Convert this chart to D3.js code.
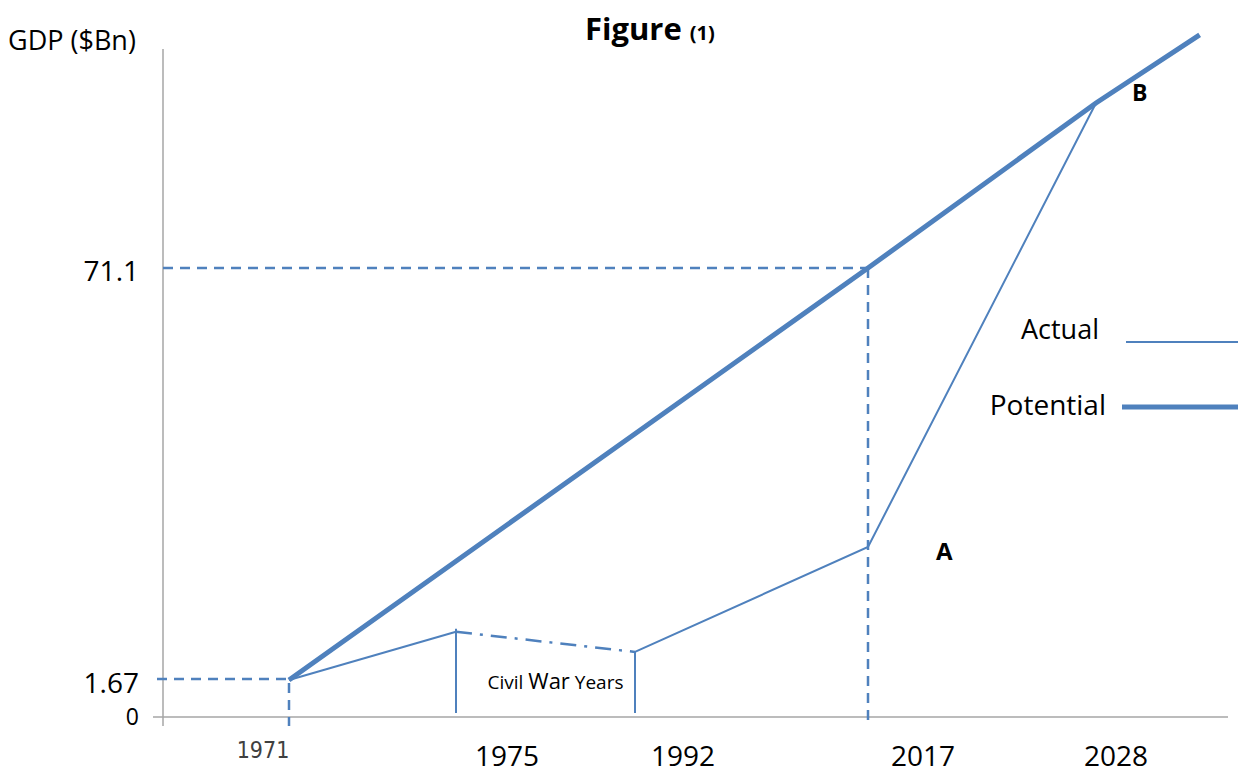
<!DOCTYPE html>
<html>
<head>
<meta charset="utf-8">
<script src="https://cdn.jsdelivr.net/npm/d3@7"></script>
<style>
  body { margin: 0; background: #fff; }
  svg { display: block; font-family: "Open Sans", "Noto Sans", sans-serif; }
  .lbl { fill: #000; }
</style>
</head>
<body>
<svg id="chart" width="1238" height="774"></svg>
<script>
// schematic data
const years = [1971, 1975, 1992, 2017, 2028]
const actualGDP = [1.67, 9.8, 6.4, 24.1, 98.9]
const potentialYears = [1971, 2017, 2028, 2033]
const potentialGDP = [1.67, 71.1, 98.9, 110.4]
const yTicks = [0, 1.67, 71.1]
const xTickLabels = ["1971", "1975", "1992", "2017", "2028"]
const warYears = [1975, 1992]

const blue = "#4f81bd"
const svg = d3.select("#chart")

// the figure is a sketch, so both axes are piecewise (polylinear) scales
const x = d3.scaleLinear()
    .domain(years)
    .range([289, 456, 635, 868, 1096])
const y = d3.scaleLinear()
    .domain(yTicks)
    .range([717, 680, 268])

const actual = years.map((yr, i) => ({ yr: yr, v: actualGDP[i] }))
const potential = potentialYears.map((yr, i) => ({ yr: yr, v: potentialGDP[i] }))
const line = d3.line().x(d => x(d.yr)).y(d => y(d.v))

// axes
svg.append("line")
    .attr("x1", 163).attr("x2", 163)
    .attr("y1", 49).attr("y2", 726)
    .attr("stroke", "#a6a6a6").attr("stroke-width", 1.5)
svg.append("line")
    .attr("x1", 153).attr("x2", 1228)
    .attr("y1", y(0)).attr("y2", y(0))
    .attr("stroke", "#a6a6a6").attr("stroke-width", 1.5)

// dashed guide lines
const dash = "10,7"
svg.append("line")
    .attr("x1", 157).attr("x2", x(1971))
    .attr("y1", y(1.67) - 1).attr("y2", y(1.67) - 1)
    .attr("stroke", blue).attr("stroke-width", 2.5).attr("stroke-dasharray", dash)
svg.append("line")
    .attr("x1", x(1971)).attr("x2", x(1971))
    .attr("y1", y(1.67) + 3).attr("y2", 726)
    .attr("stroke", blue).attr("stroke-width", 2.5).attr("stroke-dasharray", dash)
svg.append("line")
    .attr("x1", 163).attr("x2", x(2017))
    .attr("y1", y(71.1)).attr("y2", y(71.1))
    .attr("stroke", blue).attr("stroke-width", 2.5).attr("stroke-dasharray", dash)
svg.append("line")
    .attr("x1", x(2017)).attr("x2", x(2017))
    .attr("y1", y(71.1)).attr("y2", 726)
    .attr("stroke", blue).attr("stroke-width", 2.5).attr("stroke-dasharray", dash)

// civil war markers
svg.selectAll(".war")
    .data(warYears)
  .enter().append("line")
    .attr("class", "war")
    .attr("x1", d => x(d)).attr("x2", d => x(d))
    .attr("y1", d => y(actualGDP[years.indexOf(d)]) - (d == 1975 ? 3 : 0))
    .attr("y2", y(0) - 4)
    .attr("stroke", blue).attr("stroke-width", 2)

// actual: solid before and after the war, dash-dot during it
svg.append("path")
    .datum(actual.slice(0, 2))
    .attr("d", line).attr("fill", "none")
    .attr("stroke", blue).attr("stroke-width", 2)
svg.append("path")
    .datum(actual.slice(1, 3))
    .attr("d", line).attr("fill", "none")
    .attr("stroke", blue).attr("stroke-width", 2.5)
    .attr("stroke-dasharray", "16,8,3,8")
svg.append("path")
    .datum(actual.slice(2))
    .attr("d", line).attr("fill", "none")
    .attr("stroke", blue).attr("stroke-width", 2)

// potential
svg.append("path")
    .datum(potential)
    .attr("d", line).attr("fill", "none")
    .attr("stroke", blue).attr("stroke-width", 5)

// y tick labels
svg.selectAll(".ytick")
    .data(yTicks)
  .enter().append("text")
    .attr("class", "lbl")
    .attr("x", 139)
    .attr("y", d => y(d) + (d == 0 ? 0 : 3))
    .attr("dy", "0.35em")
    .attr("text-anchor", "end")
    .style("font-size", d => d == 0 ? "23px" : "28px")
    .text(d => d)

// x tick labels sit off their tick positions in the original figure
const labelShift = { 1971: [-26, 750], 1975: [51, 756], 1992: [48, 756], 2017: [55, 756], 2028: [20, 756] }
svg.selectAll(".xtick")
    .data(years)
  .enter().append("text")
    .attr("class", "lbl")
    .attr("x", d => x(d) + labelShift[d][0])
    .attr("y", d => labelShift[d][1])
    .attr("dy", "0.35em")
    .attr("text-anchor", "middle")
    .style("font-size", d => d == 1971 ? "23px" : "28px")
    .style("font-family", d => d == 1971 ? "'DejaVu Sans Condensed', sans-serif" : null)
    .style("fill", d => d == 1971 ? "#404040" : "#000")
    .text((d, i) => xTickLabels[i])

// titles
svg.append("text").attr("class", "lbl")
    .attr("x", 8).attr("y", 50)
    .style("font-size", "27px")
    .text("GDP ($Bn)")
const title = svg.append("text").attr("class", "lbl")
    .attr("x", 585).attr("y", 40)
    .style("font-weight", "bold")
title.append("tspan").style("font-size", "31px").text("Figure ")
title.append("tspan").style("font-size", "20px").text("(1)")

// civil war caption
const cw = svg.append("text").attr("class", "lbl")
    .attr("x", (x(1975) + x(1992)) / 2 + 10)
    .attr("y", 689)
    .attr("text-anchor", "middle")
    .style("font-size", "19px")
cw.append("tspan").text("Civil ")
cw.append("tspan").style("font-size", "22px").text("War")
cw.append("tspan").text(" Years")

// point annotations
svg.append("text").attr("class", "lbl")
    .attr("x", x(2017) + 68).attr("y", y(24.1) + 5)
    .attr("dy", "0.35em")
    .style("font-size", "24px").style("font-weight", "bold")
    .text("A")
svg.append("text").attr("class", "lbl")
    .attr("x", x(2028) + 36).attr("y", y(98.9) - 10)
    .attr("dy", "0.35em")
    .style("font-size", "23px").style("font-weight", "bold")
    .text("B")

// legend
const legend = [
  { name: "Actual", w: 2, tx: 1099, ty: 330, lx: 1126, ly: 342, fs: 27 },
  { name: "Potential", w: 5, tx: 1106, ty: 405, lx: 1122, ly: 407, fs: 28 }
]
legend.forEach(l => {
  svg.append("text").attr("class", "lbl")
      .attr("x", l.tx).attr("y", l.ty)
      .attr("dy", "0.35em")
      .attr("text-anchor", "end")
      .style("font-size", l.fs + "px")
      .text(l.name)
  svg.append("line")
      .attr("x1", l.lx).attr("x2", 1238)
      .attr("y1", l.ly).attr("y2", l.ly)
      .attr("stroke", blue).attr("stroke-width", l.w)
})
</script>
</body>
</html>
